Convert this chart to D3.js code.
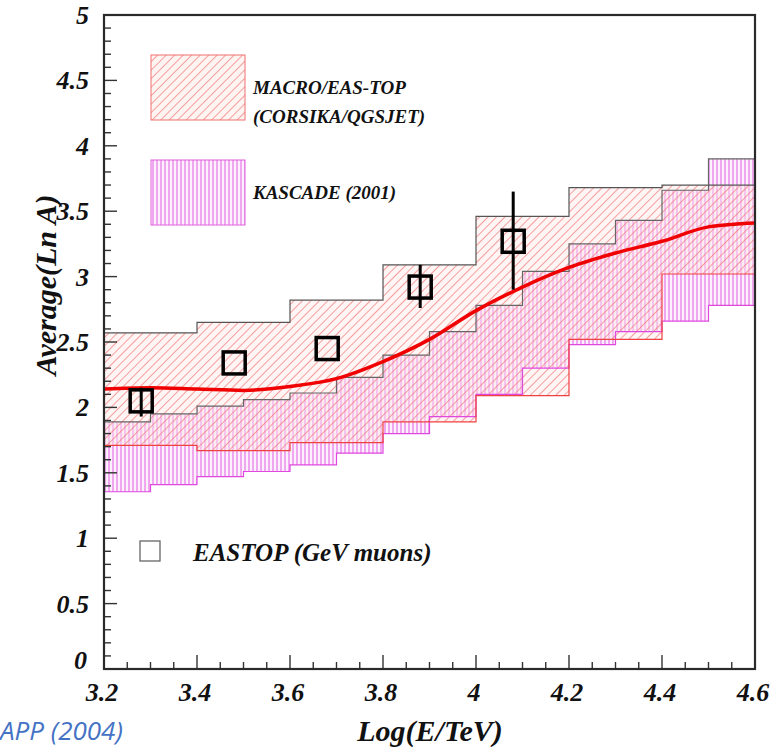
<!DOCTYPE html>
<html>
<head>
<meta charset="utf-8">
<script src="https://cdn.jsdelivr.net/npm/d3@7"></script>
<style>
  html, body { margin: 0; padding: 0; background: #fff; }
  svg { display: block; }
</style>
</head>
<body>
<svg id="chart" width="776" height="748"></svg>
<script>
// Bin edges (log10 E/TeV)
const macroEdges = [3.2, 3.4, 3.6, 3.8, 4.0, 4.2, 4.4, 4.6];
const kascadeEdges = [3.2, 3.3, 3.4, 3.5, 3.6, 3.7, 3.8, 3.9, 4.0, 4.1, 4.2, 4.3, 4.4, 4.5, 4.6];

// MACRO/EAS-TOP band (CORSIKA/QGSJET), per 0.2 bin
const macroUpper = [2.57, 2.65, 2.82, 3.09, 3.46, 3.68, 3.70];
const macroLower = [1.71, 1.67, 1.73, 1.89, 2.09, 2.52, 3.02];

// KASCADE (2001) band, per 0.1 bin
const kascadeUpper = [1.89, 1.95, 2.01, 2.06, 2.11, 2.23, 2.40, 2.58, 2.78, 3.04, 3.25, 3.43, 3.66, 3.90];
const kascadeLower = [1.355, 1.41, 1.47, 1.51, 1.56, 1.65, 1.80, 1.93, 2.10, 2.30, 2.48, 2.58, 2.66, 2.78];

// Smooth mean ln A curve
const curveX = [3.2, 3.3, 3.4, 3.5, 3.6, 3.7, 3.8, 3.9, 4.0, 4.1, 4.2, 4.3, 4.4, 4.5, 4.6];
const curveY = [2.14, 2.15, 2.14, 2.13, 2.16, 2.22, 2.35, 2.52, 2.74, 2.92, 3.07, 3.18, 3.27, 3.38, 3.41];

// EAS-TOP GeV muon measurements
const eastopX = [3.28, 3.48, 3.68, 3.88, 4.08];
const eastopY = [2.05, 2.34, 2.45, 2.92, 3.27];
const eastopErrLo = [1.93, 2.34, 2.45, 2.76, 2.90];
const eastopErrHi = [2.15, 2.34, 2.45, 3.09, 3.65];

// Axis ticks
const xTickLabels = ["3.2", "3.4", "3.6", "3.8", "4", "4.2", "4.4", "4.6"];
const yTickLabels = ["0", "0.5", "1", "1.5", "2", "2.5", "3", "3.5", "4", "4.5", "5"];

const svg = d3.select("#chart");
const padL = 104, padR = 755, padT = 15, padB = 669;
const x = d3.scaleLinear().domain([3.2, 4.6]).range([padL, padR]);
const y = d3.scaleLinear().domain([0, 5]).range([padB, padT]);

const serif = "'Liberation Serif', 'Times New Roman', serif";
const RED_HATCH = "#ef6f6f";
const MAG_HATCH = "#e25ee2";

// Hatch patterns
const defs = svg.append("defs");
defs.append("pattern")
  .attr("id", "hatchRed").attr("patternUnits", "userSpaceOnUse")
  .attr("width", 6).attr("height", 6)
  .attr("patternTransform", "rotate(45)")
  .append("line").attr("x1", 0).attr("y1", 0).attr("x2", 0).attr("y2", 6)
  .attr("stroke", RED_HATCH).attr("stroke-width", 1.3);
defs.append("pattern")
  .attr("id", "hatchMag").attr("patternUnits", "userSpaceOnUse")
  .attr("width", 4).attr("height", 4)
  .append("line").attr("x1", 1).attr("y1", 0).attr("x2", 1).attr("y2", 4)
  .attr("stroke", MAG_HATCH).attr("stroke-width", 1);

defs.append("clipPath").attr("id", "plotClip")
  .append("rect").attr("x", padL).attr("y", padT)
  .attr("width", padR - padL).attr("height", padB - padT);

// Step series: each bin value repeated at the closing edge
function stepData(edges, upper, lower) {
  return edges.map((e, i) => ({
    x: e,
    hi: upper[Math.min(i, upper.length - 1)],
    lo: lower[Math.min(i, lower.length - 1)]
  }));
}
const kas = stepData(kascadeEdges, kascadeUpper, kascadeLower);
const mac = stepData(macroEdges, macroUpper, macroLower);

const area = d3.area().curve(d3.curveStepAfter)
  .x(d => x(d.x)).y0(d => y(d.lo)).y1(d => y(d.hi));
const upperLine = d3.line().curve(d3.curveStepAfter).x(d => x(d.x)).y(d => y(d.hi));
const lowerLine = d3.line().curve(d3.curveStepAfter).x(d => x(d.x)).y(d => y(d.lo));

const plot = svg.append("g").attr("clip-path", "url(#plotClip)");

// KASCADE band
plot.append("path").attr("d", area(kas)).attr("fill", "#fbe6fb").attr("opacity", 0.6);
plot.append("path").attr("d", area(kas)).attr("fill", "url(#hatchMag)");

// MACRO/EAS-TOP band
plot.append("path").attr("d", area(mac)).attr("fill", "#fde9e6").attr("opacity", 0.45);
plot.append("path").attr("d", area(mac)).attr("fill", "url(#hatchRed)");

// Band outlines
plot.append("path").attr("d", lowerLine(kas)).attr("fill", "none").attr("stroke", "#e048e0").attr("stroke-width", 1.2);
plot.append("path").attr("d", upperLine(kas)).attr("fill", "none").attr("stroke", "#666").attr("stroke-width", 1.2);
plot.append("path").attr("d", lowerLine(mac)).attr("fill", "none").attr("stroke", "#f04040").attr("stroke-width", 1.2);
plot.append("path").attr("d", upperLine(mac)).attr("fill", "none").attr("stroke", "#555").attr("stroke-width", 1.2);

// Mean curve
const curvePts = curveX.map((v, i) => [v, curveY[i]]);
plot.append("path")
  .attr("d", d3.line().curve(d3.curveMonotoneX).x(d => x(d[0])).y(d => y(d[1]))(curvePts))
  .attr("fill", "none").attr("stroke", "#f00000").attr("stroke-width", 3.5);

// EAS-TOP points with error bars
const sq = 22;
eastopX.forEach((v, i) => {
  plot.append("line")
    .attr("x1", x(v)).attr("x2", x(v))
    .attr("y1", y(eastopErrHi[i])).attr("y2", y(eastopErrLo[i]))
    .attr("stroke", "#000").attr("stroke-width", 3);
  plot.append("rect")
    .attr("x", x(v) - sq / 2).attr("y", y(eastopY[i]) - sq / 2)
    .attr("width", sq).attr("height", sq)
    .attr("fill", "none")
    .attr("stroke", "#000").attr("stroke-width", 3.5);
});

// Inner ticks
const axisG = svg.append("g").attr("stroke", "#333").attr("stroke-width", 1.4);
d3.range(0, 51).forEach(k => {
  const v = k / 10;
  const len = k % 5 === 0 ? 13 : 7;
  axisG.append("line").attr("x1", padL).attr("x2", padL + len).attr("y1", y(v)).attr("y2", y(v));
});
d3.range(0, 29).forEach(k => {
  const v = 3.2 + k * 0.05;
  const len = k % 4 === 0 ? 14 : 7;
  axisG.append("line").attr("x1", x(v)).attr("x2", x(v)).attr("y1", padB).attr("y2", padB - len);
});

// Frame
svg.append("rect").attr("x", padL).attr("y", padT)
  .attr("width", padR - padL).attr("height", padB - padT)
  .attr("fill", "none").attr("stroke", "#2a2a2a").attr("stroke-width", 2.2);

// Tick labels
const tickFont = { "font-family": serif, "font-weight": "bold", "font-style": "italic", "font-size": "26px", "fill": "#111" };
function applyFont(sel, f) { Object.entries(f).forEach(([k, v]) => sel.attr(k, v)); return sel; }

yTickLabels.forEach(t => {
  const v = +t;
  const ty = v === 0 ? y(v) : y(v) + 9;
  const tx = v === 0 ? 87 : 89;
  applyFont(svg.append("text"), tickFont)
    .attr("x", tx).attr("y", ty).attr("text-anchor", "end").text(t);
});
xTickLabels.forEach(t => {
  applyFont(svg.append("text"), tickFont)
    .attr("x", x(+t) - 2).attr("y", 701).attr("text-anchor", "middle").text(t);
});

// Axis titles
applyFont(svg.append("text"), { ...tickFont, "font-size": "30px" })
  .attr("x", 430).attr("y", 741).attr("text-anchor", "middle").text("Log(E/TeV)");
applyFont(svg.append("text"), { ...tickFont, "font-size": "30px" })
  .attr("transform", "translate(56,285) rotate(-90)")
  .attr("text-anchor", "middle").text("Average(Ln A)");

// Legend
svg.append("rect").attr("x", 151).attr("y", 55).attr("width", 94).attr("height", 65)
  .attr("fill", "#fde9e6").attr("opacity", 0.5);
svg.append("rect").attr("x", 151).attr("y", 55).attr("width", 94).attr("height", 65)
  .attr("fill", "url(#hatchRed)").attr("stroke", "#f07070").attr("stroke-width", 1);
svg.append("rect").attr("x", 151).attr("y", 160).attr("width", 94).attr("height", 65)
  .attr("fill", "#fbe6fb").attr("opacity", 0.6);
svg.append("rect").attr("x", 151).attr("y", 160).attr("width", 94).attr("height", 65)
  .attr("fill", "url(#hatchMag)").attr("stroke", "#e060e0").attr("stroke-width", 1);

const legFont = { ...tickFont, "font-size": "19px" };
applyFont(svg.append("text"), legFont).attr("x", 253).attr("y", 94).text("MACRO/EAS-TOP");
applyFont(svg.append("text"), legFont).attr("x", 253).attr("y", 123).text("(CORSIKA/QGSJET)");
applyFont(svg.append("text"), legFont).attr("x", 253).attr("y", 199).text("KASCADE (2001)");

svg.append("rect").attr("x", 140).attr("y", 541).attr("width", 20).attr("height", 20)
  .attr("fill", "none").attr("stroke", "#666").attr("stroke-width", 1.3);
applyFont(svg.append("text"), { ...tickFont, "font-size": "25px" })
  .attr("x", 193).attr("y", 561).text("EASTOP (GeV muons)");

// Source note
svg.append("text")
  .attr("x", 0).attr("y", 740)
  .attr("font-family", "'Open Sans', 'Noto Sans', sans-serif")
  .attr("font-style", "italic").attr("font-size", "26px").attr("fill", "#4472c4")
  .text("APP (2004)");
</script>
</body>
</html>
